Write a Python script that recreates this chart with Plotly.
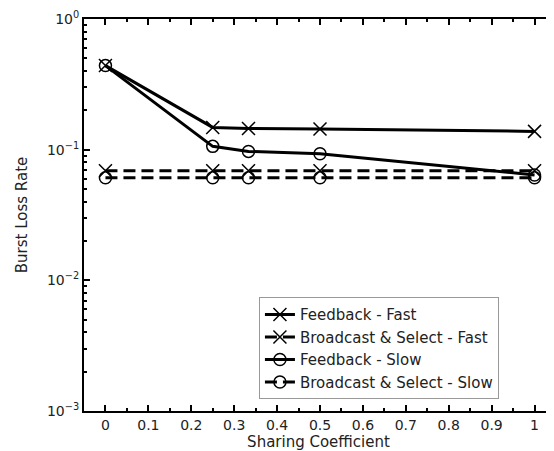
import plotly.graph_objects as go

sharing = [0, 0.25, 1/3, 0.5, 1]
feedback_fast = [0.44, 0.148, 0.145, 0.144, 0.138]
bs_fast = [0.069, 0.069, 0.069, 0.069, 0.069]
feedback_slow = [0.44, 0.106, 0.097, 0.093, 0.064]
bs_slow = [0.061, 0.061, 0.061, 0.061, 0.061]

series = [
    ("Feedback - Fast", feedback_fast, "solid", "x-thin-open", 13),
    ("Broadcast & Select - Fast", bs_fast, "12px,6px", "x-thin-open", 13),
    ("Feedback - Slow", feedback_slow, "solid", "circle-open", 12),
    ("Broadcast & Select - Slow", bs_slow, "12px,6px", "circle-open", 12),
]

fig = go.Figure()
for name, ys, dash, sym, size in series:
    fig.add_trace(go.Scatter(
        x=sharing, y=ys, name=name, mode="lines+markers",
        line=dict(color="black", width=3, dash=dash),
        marker=dict(symbol=sym, size=size, color="black",
                    line=dict(color="black", width=1.5)),
    ))

font = "DejaVu Sans, Verdana, sans-serif"
ytickvals = [1e-3, 1e-2, 1e-1, 1]
yticktext = ["10<sup>−3</sup>", "10<sup>−2</sup>", "10<sup>−1</sup>", "10<sup>0</sup>"]
yminor = [m * 10 ** e for e in (-3, -2, -1) for m in range(2, 10)]

fig.update_layout(
    width=554, height=451,
    margin=dict(l=76, r=9, t=11, b=48),
    paper_bgcolor="white", plot_bgcolor="white",
    font=dict(family=font, size=14, color="#222222"),
    showlegend=True,
    legend=dict(x=0.373, y=0.03, xanchor="left", yanchor="bottom",
                bgcolor="white", bordercolor="#999999", borderwidth=1,
                font=dict(size=15), tracegroupgap=0),
    xaxis=dict(
        range=[-0.05, 1.043], tickvals=[i / 10 for i in range(11)],
        ticktext=["0"] + [f"{i/10:g}" for i in range(1, 10)] + ["1"],
        ticks="inside", ticklen=6, tickwidth=1.5, tickcolor="black",
        showline=True, linecolor="black", linewidth=2, mirror="ticks",
        showgrid=False, zeroline=False, automargin=False,
        minor=dict(tickvals=[i / 20 for i in range(1, 21, 2)], ticks="inside",
                   ticklen=3, tickwidth=1.5, tickcolor="black", showgrid=False),
        title=dict(text="Sharing Coefficient", font=dict(size=15), standoff=2),
    ),
    yaxis=dict(
        type="log", range=[-3, 0], tickvals=ytickvals, ticktext=yticktext,
        ticks="inside", ticklen=6, tickwidth=1.5, tickcolor="black",
        showline=True, linecolor="black", linewidth=2, mirror="ticks",
        showgrid=False, zeroline=False, automargin=False,
        minor=dict(tickvals=yminor, ticks="inside", ticklen=3, tickwidth=1.5,
                   tickcolor="black", showgrid=False),
        title=dict(text="Burst Loss Rate", font=dict(size=15), standoff=16),
    ),
)

fig.write_html("out.html")
